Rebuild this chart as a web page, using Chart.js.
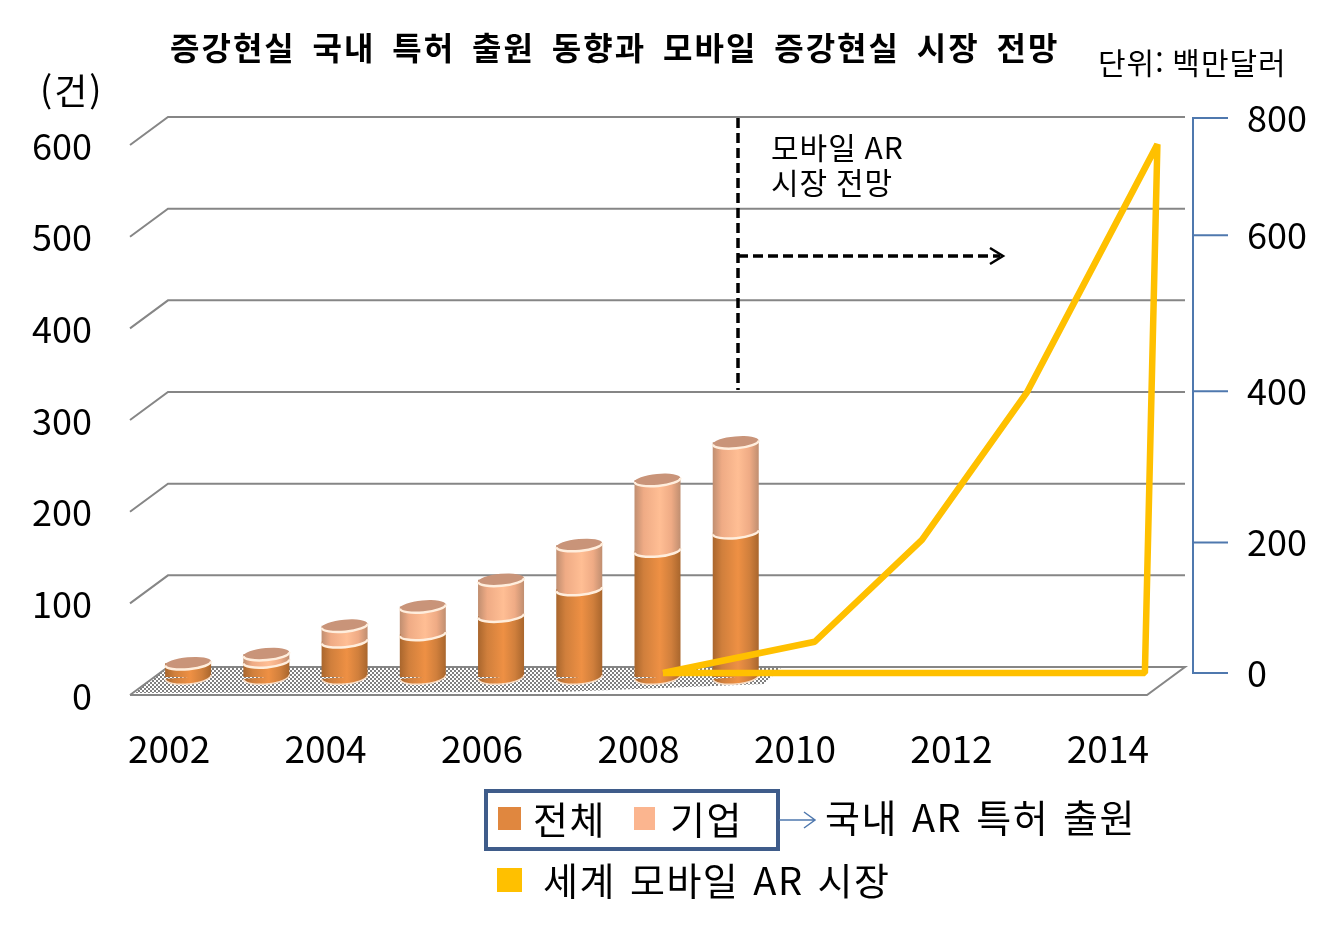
<!DOCTYPE html>
<html lang="ko">
<head>
<meta charset="utf-8">
<title>증강현실 국내 특허 출원 동향과 모바일 증강현실 시장 전망</title>
<script src="https://cdn.jsdelivr.net/npm/chart.js@4"></script>
<style>
  html, body { margin: 0; padding: 0; background: #fff; }
  canvas { display: block; }
</style>
</head>
<body>
<canvas id="arChart" width="1333" height="925"></canvas>
<script>
const years = ["2002","2003","2004","2005","2006","2007","2008","2009","2010","2011","2012","2013","2014"];

// 국내 AR 특허 출원 (건)
const totalValues = [15, 17, 39, 47, 67, 96, 138, 158];
const companyValues = [0, 8, 17, 30, 39, 48, 77, 98];

// 세계 모바일 AR 시장: the line runs out and back along the floor, so it has its own x values
const marketYears = [2008.07, 2010.01, 2011.38, 2012.72, 2014.39, 2014.23, 2008.07];
const marketValues = [0, 45, 192, 404, 762, 0, 0];

const leftTicks = [0, 100, 200, 300, 400, 500, 600];
// the right axis of the original is unevenly spaced, these are where its labels really sit
const rightTickSpots = [0, 188, 406, 631, 800];
const rightTickLabels = ["0", "200", "400", "600", "800"];

const FONT = '"Noto Sans CJK KR", "Noto Sans", sans-serif';
const ORANGE = "#E0873F";
const PEACH = "#FBB58F";
const YELLOW = "#FFC000";
const BLUE = "#4F78AE";
const GRID = "#868686";

function barGradient(chart, i, edge, side, mid) {
  const x = chart.scales.x.getPixelForValue(i);
  const g = chart.ctx.createLinearGradient(x - 23, 0, x + 23, 0);
  g.addColorStop(0, edge);
  g.addColorStop(0.2, side);
  g.addColorStop(0.55, mid);
  g.addColorStop(0.8, side);
  g.addColorStop(1, edge);
  return g;
}
const orangeFill = (chart, i) => barGradient(chart, i, "#A9662D", "#D07F3C", "#EE9044");
const peachFill = (chart, i) => barGradient(chart, i, "#C08E70", "#EFAB85", "#FFBE94");

function floorPattern(ctx) {
  const tile = document.createElement("canvas");
  tile.width = 4;
  tile.height = 4;
  const t = tile.getContext("2d");
  t.fillStyle = "#fff";
  t.fillRect(0, 0, 4, 4);
  t.fillStyle = "#808080";
  t.fillRect(0, 0, 2, 2);
  t.fillRect(2, 2, 2, 2);
  return ctx.createPattern(tile, "repeat");
}

function label(ctx, text, x, y, size, spacing, bold) {
  ctx.font = `${bold ? "bold " : ""}${size}px ${FONT}`;
  ctx.letterSpacing = `${spacing || 0}px`;
  ctx.fillStyle = "#000";
  ctx.textBaseline = "middle";
  ctx.textAlign = "left";
  ctx.fillText(text, x, y);
  ctx.letterSpacing = "0px";
}

const ROT = -0.09;

// back wall, floor and the right hand axis
const wallPlugin = {
  id: "wall",
  beforeDatasetsDraw(chart) {
    const { ctx, chartArea, scales } = chart;
    const left = chartArea.left, right = chartArea.right;
    ctx.save();

    const zero = scales.y.getPixelForValue(0);
    ctx.fillStyle = floorPattern(ctx);
    ctx.beginPath();
    ctx.moveTo(133, zero + 16);
    ctx.lineTo(left + 19, zero - 10);
    ctx.lineTo(782, zero - 10);
    ctx.lineTo(764, zero + 7);
    ctx.lineTo(560, zero + 15);
    ctx.closePath();
    ctx.fill();

    ctx.strokeStyle = GRID;
    ctx.lineWidth = 2;
    leftTicks.forEach((v) => {
      const y = scales.y.getPixelForValue(v);
      ctx.beginPath();
      ctx.moveTo(left - 19, y + 18);
      ctx.lineTo(left + 19, y - 10);
      ctx.lineTo(right + 19, y - 10);
      if (v === 0) {
        ctx.lineTo(right - 19, y + 18);
        ctx.lineTo(left - 19, y + 18);
      }
      ctx.stroke();
    });

    ctx.strokeStyle = BLUE;
    const top = scales.y2.getPixelForValue(800);
    const bottom = scales.y2.getPixelForValue(0);
    ctx.beginPath();
    ctx.moveTo(1193, top);
    ctx.lineTo(1193, bottom);
    ctx.stroke();
    rightTickSpots.forEach((v) => {
      const y = scales.y2.getPixelForValue(v);
      ctx.beginPath();
      ctx.moveTo(1192, y);
      ctx.lineTo(1228, y);
      ctx.stroke();
    });
    ctx.restore();
  }
};

// round ends of the bars, so they read as cylinders
// 전체 is painted after 기업 (stack order), so everything goes on once 전체 is down
const cylinderPlugin = {
  id: "cylinder",
  afterDatasetDraw(chart, args) {
    if (args.index !== 0) return;
    const { ctx } = chart;
    const lower = chart.getDatasetMeta(0).data;
    const upper = chart.getDatasetMeta(1).data;
    ctx.save();
    lower.forEach((bar, i) => {
      const rx = bar.width / 2;
      ctx.fillStyle = orangeFill(chart, i);
      ctx.beginPath();
      ctx.ellipse(bar.x, bar.base, rx, 7, ROT, 0, Math.PI);
      ctx.fill();
      ctx.strokeStyle = "#F8DCC4";
      ctx.lineWidth = 1.5;
      ctx.stroke();

      if (companyValues[i] > 0) {
        ctx.fillStyle = peachFill(chart, i);
        ctx.beginPath();
        ctx.ellipse(bar.x, bar.y, rx, 6, ROT, 0, Math.PI * 2);
        ctx.fill();
        ctx.strokeStyle = "#FFEEDD";
        ctx.lineWidth = 2.5;
        ctx.beginPath();
        ctx.ellipse(bar.x, bar.y, rx, 6, ROT, 0, Math.PI);
        ctx.stroke();
      }

      const topY = upper[i].y;
      ctx.fillStyle = "#C99479";
      ctx.beginPath();
      ctx.ellipse(bar.x, topY, rx, 6, ROT, 0, Math.PI * 2);
      ctx.fill();
      ctx.strokeStyle = "#FFEEDD";
      ctx.lineWidth = 2.5;
      ctx.beginPath();
      ctx.ellipse(bar.x, topY, rx, 6, ROT, 0, Math.PI);
      ctx.stroke();
    });
    ctx.restore();
  }
};

// title, notes and the hand made legend
const notesPlugin = {
  id: "notes",
  afterDraw(chart) {
    const { ctx } = chart;
    ctx.save();

    ctx.wordSpacing = "7.6px";
    label(ctx, "증강현실 국내 특허 출원 동향과 모바일 증강현실 시장 전망", 170, 48, 32, 2, true);
    ctx.wordSpacing = "0px";
    label(ctx, "단위: 백만달러", 1098, 63, 30, 1);
    label(ctx, "(건)", 40, 91, 36, 2);
    label(ctx, "모바일 AR", 771, 148, 30, 1);
    label(ctx, "시장 전망", 771, 183, 30, 1);

    // 2009 divider and forecast arrow
    ctx.strokeStyle = "#000";
    ctx.lineWidth = 3.5;
    ctx.setLineDash([10, 5]);
    ctx.beginPath();
    ctx.moveTo(738, 118);
    ctx.lineTo(738, 390);
    ctx.moveTo(738, 256);
    ctx.lineTo(1000, 256);
    ctx.stroke();
    ctx.setLineDash([]);
    ctx.lineWidth = 2.5;
    ctx.beginPath();
    ctx.moveTo(990, 248);
    ctx.lineTo(1003, 256);
    ctx.lineTo(990, 264);
    ctx.stroke();

    // legend
    ctx.strokeStyle = "#3F5C8A";
    ctx.lineWidth = 4;
    ctx.strokeRect(486, 791, 292, 58);
    ctx.fillStyle = ORANGE;
    ctx.fillRect(498, 807, 23, 23);
    ctx.fillStyle = PEACH;
    ctx.fillRect(634, 807, 21, 23);
    ctx.fillStyle = YELLOW;
    ctx.fillRect(497, 868, 25, 24);
    label(ctx, "전체", 533, 820, 38, 1.5);
    label(ctx, "기업", 670, 820, 38, 1.5);
    ctx.wordSpacing = "4px";
    label(ctx, "국내 AR 특허 출원", 825, 818, 38, 1.5);
    label(ctx, "세계 모바일 AR 시장", 543, 881, 38, 1.5);
    ctx.wordSpacing = "0px";

    ctx.strokeStyle = BLUE;
    ctx.lineWidth = 1.5;
    ctx.beginPath();
    ctx.moveTo(779, 820);
    ctx.lineTo(815, 820);
    ctx.moveTo(804, 812);
    ctx.lineTo(815, 820);
    ctx.lineTo(804, 828);
    ctx.stroke();
    ctx.restore();
  }
};

new Chart(document.getElementById("arChart"), {
  type: "bar",
  data: {
    labels: years,
    datasets: [
      {
        label: "전체",
        data: totalValues,
        order: 2,
        grouped: false,
        maxBarThickness: 46,
        backgroundColor: (c) => (c.chart.chartArea ? orangeFill(c.chart, c.dataIndex) : ORANGE)
      },
      {
        label: "기업",
        data: companyValues,
        order: 3,
        grouped: false,
        maxBarThickness: 46,
        backgroundColor: (c) => (c.chart.chartArea ? peachFill(c.chart, c.dataIndex) : PEACH)
      },
      {
        type: "line",
        label: "세계 모바일 AR 시장",
        data: marketYears.map((x, i) => ({ x, y: marketValues[i] })),
        order: 1,
        xAxisID: "xLine",
        yAxisID: "y2",
        borderColor: YELLOW,
        borderWidth: 6.5,
        borderJoinStyle: "bevel",
        pointRadius: 0,
        tension: 0,
        fill: false
      }
    ]
  },
  options: {
    responsive: false,
    animation: false,
    devicePixelRatio: 1,
    events: [],
    layout: { padding: { top: 99, left: 0, right: 0, bottom: 0 } },
    plugins: { legend: { display: false }, title: { display: false }, tooltip: { enabled: false } },
    scales: {
      x: {
        stacked: true,
        grid: { display: false },
        border: { display: false },
        afterFit: (s) => { s.height = 248; },
        ticks: {
          autoSkip: false,
          maxRotation: 0,
          padding: 42,
          labelOffset: -19,
          color: "#000",
          font: { family: FONT, size: 37 },
          callback: (v, i) => (i % 2 === 0 ? years[i] : "")
        }
      },
      xLine: { type: "linear", display: false, offset: false, min: 2001.5, max: 2014.5 },
      y: {
        stacked: true,
        min: 0,
        max: 630.6,
        grid: { display: false },
        border: { display: false },
        afterFit: (s) => { s.width = 149; },
        afterBuildTicks: (s) => { s.ticks = leftTicks.map((value) => ({ value })); },
        ticks: {
          padding: 49,
          labelOffset: 19,
          color: "#000",
          font: { family: FONT, size: 36 }
        }
      },
      y2: {
        position: "right",
        min: -5.8,
        max: 827.4,
        grid: { display: false },
        border: { display: false },
        afterFit: (s) => { s.width = 167; },
        afterBuildTicks: (s) => { s.ticks = rightTickSpots.map((value) => ({ value })); },
        ticks: {
          autoSkip: false,
          padding: 73,
          color: "#000",
          font: { family: FONT, size: 36 },
          callback: (v, i) => rightTickLabels[i]
        }
      }
    }
  },
  plugins: [wallPlugin, cylinderPlugin, notesPlugin]
});
</script>
</body>
</html>
